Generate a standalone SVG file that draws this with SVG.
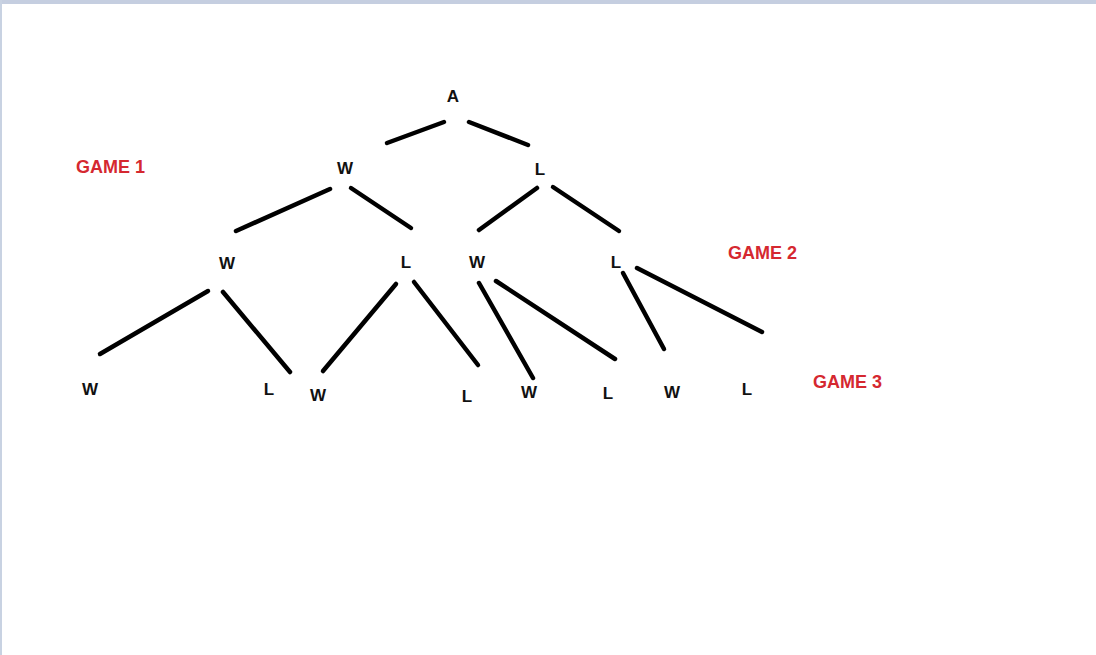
<svg xmlns="http://www.w3.org/2000/svg" width="1096" height="655" viewBox="0 0 1096 655">
<style>
.n{font-family:"Liberation Sans",Arial,sans-serif;font-weight:bold;font-size:17px;fill:#111;text-anchor:middle;dominant-baseline:central}
.g{font-family:"Liberation Sans",Arial,sans-serif;font-weight:bold;font-size:18px;fill:#d52830;dominant-baseline:central}
.e{stroke:#000;stroke-width:4.5;stroke-linecap:round;fill:none}
</style>
<rect width="1096" height="655" fill="#fff"/>
<rect x="0" y="0" width="1096" height="4" fill="#c5cee0"/>
<rect x="0" y="0" width="2" height="655" fill="#c8d2e2"/>
<g id="connectors" class="e">
<line x1="387" y1="143" x2="444" y2="122"/>
<line x1="469" y1="122" x2="528" y2="145"/>
<line x1="236" y1="231" x2="330" y2="189"/>
<line x1="351" y1="188" x2="411" y2="228"/>
<line x1="479" y1="230" x2="537" y2="188"/>
<line x1="553" y1="187" x2="619" y2="231"/>
<line x1="100" y1="354" x2="208" y2="291"/>
<line x1="223" y1="292" x2="290" y2="372"/>
<line x1="323" y1="371" x2="396" y2="284"/>
<line x1="414" y1="282" x2="478" y2="365"/>
<line x1="479" y1="283" x2="533" y2="378"/>
<line x1="496" y1="281" x2="615" y2="359"/>
<line x1="623" y1="273" x2="664" y2="349"/>
<line x1="637" y1="268" x2="762" y2="332"/>
</g>
<g id="nA"><text class="n" x="453" y="96">A</text></g>
<g id="n1W"><text class="n" x="345" y="168">W</text></g>
<g id="n1L"><text class="n" x="540" y="169">L</text></g>
<g id="n2WW"><text class="n" x="227" y="263">W</text></g>
<g id="n2WL"><text class="n" x="406" y="262">L</text></g>
<g id="n2LW"><text class="n" x="477" y="262">W</text></g>
<g id="n2LL"><text class="n" x="616" y="262">L</text></g>
<g id="n3a"><text class="n" x="90" y="389">W</text></g>
<g id="n3b"><text class="n" x="269" y="389">L</text></g>
<g id="n3c"><text class="n" x="318" y="395">W</text></g>
<g id="n3d"><text class="n" x="467" y="396">L</text></g>
<g id="n3e"><text class="n" x="529" y="392">W</text></g>
<g id="n3f"><text class="n" x="608" y="393">L</text></g>
<g id="n3g"><text class="n" x="672" y="392">W</text></g>
<g id="n3h"><text class="n" x="747" y="389">L</text></g>
<g id="game1"><text class="g" x="76" y="167">GAME 1</text></g>
<g id="game2"><text class="g" x="728" y="253">GAME 2</text></g>
<g id="game3"><text class="g" x="813" y="382">GAME 3</text></g>
</svg>
